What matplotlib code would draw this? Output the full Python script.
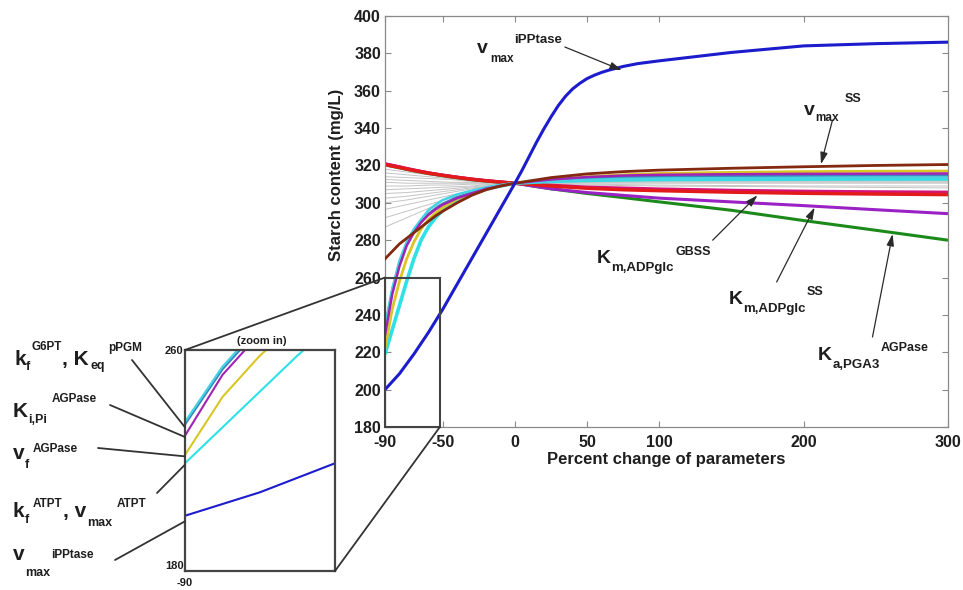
import matplotlib
matplotlib.use("Agg")
import matplotlib.pyplot as plt
from matplotlib.patches import Rectangle, ConnectionPatch

W, H = 963, 590
FONT = "Liberation Sans"
plt.rcParams["font.family"] = [FONT, "DejaVu Sans"]
plt.rcParams["font.weight"] = "bold"
plt.rcParams["axes.unicode_minus"] = False

# ---------------- data ----------------
x = [-90, -85, -80, -75, -70, -65, -60, -55, -50, -40, -30, -20, -10, 0,
     25, 50, 75, 100, 150, 200, 250, 300]

brown = [270, 274, 278, 281, 284, 287, 290, 293, 295.5, 300, 304, 307, 309, 310.5,
         313.5, 315.5, 316.7, 317.5, 318.5, 319.3, 320, 320.5]
teal = [233, 253, 268, 278, 285, 290, 294, 297, 299.5, 303, 305.5, 307.5, 309, 310.5,
        312, 313, 313.7, 314, 314.3, 314.5, 314.6, 314.7]
cyan_a = [234, 254, 269, 279, 286, 291, 296, 299, 301.5, 304.5, 306.5, 308.3, 309.6, 310.5,
          311.5, 312.3, 312.8, 313, 313.2, 313.4, 313.5, 313.5]
violet_steep = [229, 251, 266, 277, 284, 289.5, 293.5, 296.5, 299, 302.5, 305, 307.5, 309, 310.5,
                312.5, 313.8, 314.6, 315, 315.3, 315.5, 315.6, 315.7]
yellow = [222, 243, 258, 270, 279, 286, 291, 294.5, 297.5, 302, 305, 307.5, 309, 310.5,
          312.5, 314, 315, 315.7, 316.3, 316.7, 316.9, 317]
cyan_b = [219, 232, 245, 258, 270, 280, 287, 292, 296, 301.5, 305, 307.5, 309, 310.5,
          311.5, 312, 312.3, 312.5, 312.6, 312.7, 312.8, 312.8]
red = [320.5, 319.7, 318.9, 318.1, 317.3, 316.6, 315.9, 315.3, 314.7, 313.6, 312.6, 311.8, 311.1, 310.5,
       309, 307.8, 307, 306.5, 305.7, 305.1, 304.7, 304.4]
pink = [321, 320.2, 319.4, 318.5, 317.7, 316.9, 316.2, 315.5, 314.9, 313.8, 312.8, 311.9, 311.2, 310.5,
        309.5, 308.5, 308, 307.5, 306.8, 306.3, 306, 305.8]
purple = [320.8, 320, 319.2, 318.3, 317.5, 316.8, 316, 315.4, 314.8, 313.7, 312.7, 311.9, 311.2, 310.5,
          307.5, 305.5, 304, 302.5, 300.5, 298.5, 296.3, 294.2]
green = [320.3, 319.5, 318.7, 317.9, 317.1, 316.4, 315.7, 315.1, 314.5, 313.4, 312.4, 311.6, 311, 310.5,
         307.5, 305, 302.8, 300.5, 296, 290.5, 285.3, 280]

x_blue = [-90, -80, -70, -60, -50, -40, -30, -20, -10, 0, 5, 10, 15, 20, 25, 30, 35, 40, 45,
          50, 55, 60, 65, 70, 75, 85, 100, 150, 200, 250, 300]
blue = [200, 208.5, 219, 230.5, 243, 256.5, 270, 283.5, 297, 310.5, 317.5, 325, 332.5, 339.5,
        346, 352, 357, 361, 364, 366.5, 368.3, 369.8, 371, 372, 373, 374.5, 376, 380.5, 384,
        385.2, 386]

x_gray = [-90, -75, -60, -45, -30, -15, 0, 50, 100, 200, 300]
gray_lines = [
    [318, 316.5, 315, 313.5, 312.5, 311.5, 310.5, 309.5, 309, 308.5, 308],
    [316, 315, 314, 313, 312, 311, 310.5, 310, 309.5, 309, 309],
    [314, 313.5, 313, 312.5, 311.5, 311, 310.5, 310.5, 310.5, 310.5, 310.5],
    [312.5, 312, 311.5, 311, 311, 310.5, 310.5, 311, 311, 311, 311],
    [311, 310.5, 310.5, 310.5, 310.5, 310.5, 310.5, 311, 311.5, 311.5, 311.5],
    [309, 309, 309.5, 309.5, 310, 310, 310.5, 311, 311.5, 312, 312],
    [307, 307.5, 308, 308.5, 309, 310, 310.5, 311.5, 312, 312, 312.5],
    [305, 305.5, 306.5, 307.5, 308.5, 309.5, 310.5, 311.5, 312, 312.5, 312.5],
    [302.5, 303.5, 305, 306.5, 308, 309, 310.5, 311.5, 312, 312.5, 313],
    [300, 301.5, 303.5, 305.5, 307.5, 309, 310.5, 312, 312.5, 313, 313],
    [296.5, 299, 301.5, 304, 306.5, 308.5, 310.5, 312, 312.5, 313, 313.5],
    [292, 295.5, 299, 302.5, 305.5, 308, 310.5, 312, 313, 313.5, 313.5],
    [287, 292, 297, 301, 304.5, 307.5, 310.5, 312.5, 313, 313.5, 314],
]

x_ticks = [-90, -50, 0, 50, 100, 200, 300]
y_ticks = [180, 200, 220, 240, 260, 280, 300, 320, 340, 360, 380, 400]

# ---------------- figure ----------------
fig = plt.figure(figsize=(W / 100, H / 100), dpi=100)
ax = fig.add_axes([385 / W, 1 - 427 / H, (948 - 385) / W, (427 - 16) / H])

for g in gray_lines:
    ax.plot(x_gray, g, color="#c4c4c4", lw=0.7, zorder=1)

steep = [
    (cyan_b, "#2fe0e6", 2.6),
    (yellow, "#d8c626", 2.0),
    (teal, "#3a86c0", 1.8),
    (cyan_a, "#45d2e2", 1.8),
    (violet_steep, "#a024b4", 1.8),
]
top = [
    (green, "#1b8a1b", 2.2),
    (purple, "#9a22c4", 2.2),
    (pink, "#d4137a", 2.0),
    (red, "#e31a1a", 2.5),
]
for ys, c, lw in top:
    ax.plot(x, ys, color=c, lw=lw, zorder=2, solid_capstyle="butt")
for ys, c, lw in steep:
    ax.plot(x, ys, color=c, lw=lw, zorder=3, solid_capstyle="butt")
ax.plot(x, brown, color="#82290f", lw=2.0, zorder=4)
ax.plot(x_blue, blue, color="#1c1ccc", lw=2.2, zorder=5)

ax.set_xlim(-90, 300)
ax.set_ylim(180, 400)
ax.set_xticks(x_ticks)
ax.set_yticks(y_ticks)
ax.tick_params(direction="in", length=4, color="#8a8a8a", top=True, right=True,
               labelsize=11.5, labelcolor="#1e1e1e", pad=3)
ax.tick_params(axis="x", pad=6)
for lab in ax.get_xticklabels() + ax.get_yticklabels():
    lab.set_fontweight("bold")
for s in ax.spines.values():
    s.set_color("#8a8a8a")
    s.set_linewidth(0.9)
ax.set_xlabel("Percent change of parameters", fontsize=12, fontweight="bold",
              color="#1e1e1e", labelpad=1)
ax.set_ylabel("Starch content (mg/L)", fontsize=12, fontweight="bold", color="#1e1e1e")
ax.yaxis.set_label_coords(-0.072, 0.613)

# zoom box in main axes
ax.add_patch(Rectangle((-90, 180), 38, 80, fill=False, ec="#444444", lw=1.5,
                       zorder=6, clip_on=False))

# ---------------- inset ----------------
axins = fig.add_axes([185 / W, 1 - 571 / H, 150 / W, 221 / H])
for ys, c, lw in steep:
    axins.plot(x, ys, color=c, lw=1.5)
axins.plot(x_blue, blue, color="#1c1ccc", lw=1.5)
axins.set_xlim(-90, -70)
axins.set_ylim(180, 260)
axins.set_xticks([-90])
axins.set_yticks([180, 260])
axins.tick_params(axis="y", length=0, labelsize=8, labelcolor="#1e1e1e", pad=1)
axins.tick_params(axis="x", length=0, labelsize=8, labelcolor="#1e1e1e", pad=5)
for lab in axins.get_xticklabels() + axins.get_yticklabels():
    lab.set_fontweight("bold")
axins.get_yticklabels()[0].set_va("bottom")
for s in axins.spines.values():
    s.set_color("#444444")
    s.set_linewidth(1.6)
fig.text(262 / W, 1 - 341 / H, "(zoom in)", fontsize=8, fontweight="bold",
         ha="center", va="center", color="#1e1e1e")

LC = "#333333"
for xyA, xyB in [((0, 1), (-90, 260)), ((1, 0), (-52, 180))]:
    cp = ConnectionPatch(xyA=xyA, coordsA=axins.transAxes, xyB=xyB,
                         coordsB=ax.transData, color=LC, lw=1.3)
    fig.add_artist(cp)

# leader lines from left labels to the inset curves
leaders = [((132, 360), 232), ((110, 405), 228.5), ((98, 448), 221.5),
           ((157, 493), 218.5), ((115, 560), 198)]
for (px, py), yv in leaders:
    cp = ConnectionPatch(xyA=(px / W, 1 - py / H), coordsA=fig.transFigure,
                         xyB=(-90, yv), coordsB=axins.transData, color=LC, lw=1.3)
    fig.add_artist(cp)

renderer = fig.canvas.get_renderer()


def label(pieces):
    """pieces: (text, x_px, baseline_px, size); each piece starts no earlier
    than the right edge of the previous one."""
    prev_right = None
    for txt, px, py, size in pieces:
        if prev_right is not None:
            px = max(px, prev_right + 0.5)
        t = fig.text(px / W, 1 - py / H, txt, fontsize=size, fontweight="bold",
                     ha="left", va="baseline", color="#1e1e1e")
        bb = t.get_window_extent(renderer)
        prev_right = bb.x1


# left labels
label([("k", 14, 365, 15), ("f", 26, 370, 9), ("G6PT", 31, 350, 8.5),
       (", K", 60, 365, 15), ("eq", 90, 369, 9), ("pPGM", 108, 351, 8.5)])
label([("K", 13, 417, 15), ("i,Pi", 27, 423, 9), ("AGPase", 52, 402, 8.5)])
label([("v", 13, 459, 15), ("f", 25, 468, 9), ("AGPase", 33, 452, 8.5)])
label([("k", 13, 517, 15), ("f", 25, 523, 9), ("ATPT", 33, 507, 8.5),
       (", v", 60, 517, 15), ("max", 84, 526, 9), ("ATPT", 117, 507, 8.5)])
label([("v", 13, 560, 15), ("max", 23, 576, 9), ("iPPtase", 42, 558, 8.5)])

# annotations in the main chart
label([("v", 477, 53, 14), ("max", 490, 62, 8.5), ("iPPtase", 513, 43, 9.5)])
label([("v", 804, 115, 14), ("max", 814, 121, 8.5), ("SS", 845, 102, 9)])
label([("K", 597, 263, 14), ("m,ADPglc", 610, 271, 9.5), ("GBSS", 675, 255, 9)])
label([("K", 729, 304, 14), ("m,ADPglc", 741, 312, 9.5), ("SS", 807, 295, 9)])
label([("K", 818, 360, 14), ("a,PGA3", 830, 368, 9.5), ("AGPase", 880, 351, 9)])

arrows = [((34.6, 383.4), (74, 371)), ((220, 344.3), (212, 320.7)),
          ((137, 280), (168, 304)), ((181.3, 257.6), (207.6, 297.5)),
          ((247.7, 228.2), (261.6, 283.3))]
for tail, tip in arrows:
    ax.annotate("", xy=tip, xytext=tail, xycoords="data", textcoords="data",
                arrowprops=dict(arrowstyle="-|>,head_length=0.7,head_width=0.22",
                                color="#2a2a2a", lw=0.9, shrinkA=0, shrinkB=0),
                zorder=7)

fig.savefig("out.png", dpi=100)
